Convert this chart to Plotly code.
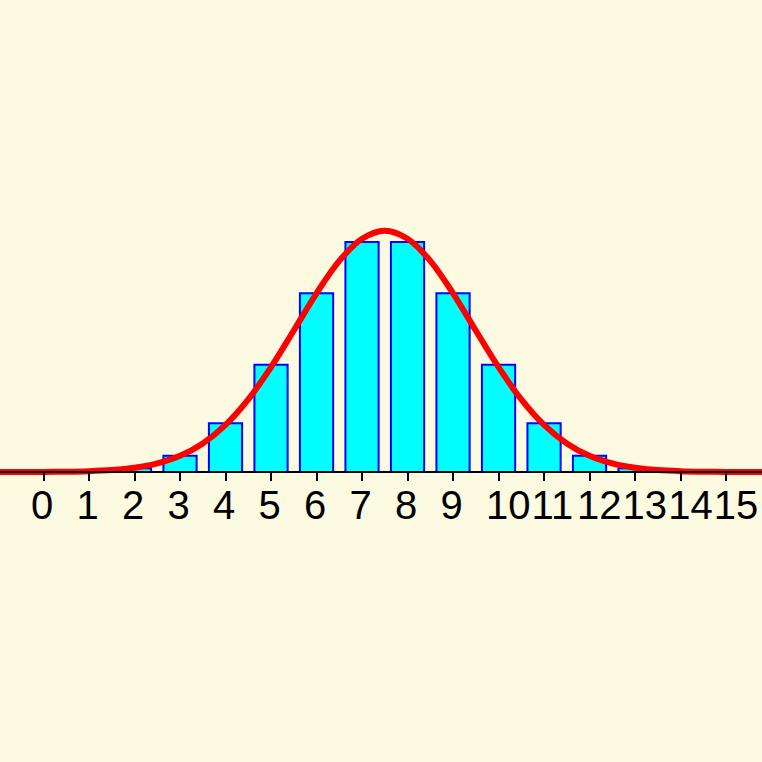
import plotly.graph_objects as go

# Binomial(15, 0.5) probabilities
k_values = list(range(16))
probabilities = [0.00003, 0.00046, 0.0032, 0.0139, 0.0417, 0.0916, 0.1527, 0.1964,
                 0.1964, 0.1527, 0.0916, 0.0417, 0.0139, 0.0032, 0.00046, 0.00003]

# Normal approximation curve
curve_x = [-1.0, -0.5, 0.0, 0.5, 1.0, 1.5, 2.0, 2.5, 3.0, 3.5, 4.0, 4.5, 5.0, 5.5, 6.0, 6.5,
           7.0, 7.5, 8.0, 8.5, 9.0, 9.5, 10.0, 10.5, 11.0, 11.5, 12.0, 12.5, 13.0, 13.5,
           14.0, 14.5, 15.0, 15.5, 16.0]
curve_y = [0.00001, 0.00004, 0.00011, 0.00030, 0.00074, 0.00170, 0.00365, 0.00735,
           0.0138, 0.0244, 0.0402, 0.0620, 0.0895, 0.1208, 0.1526, 0.1803,
           0.1992, 0.2060, 0.1992, 0.1803, 0.1526, 0.1208, 0.0895, 0.0620,
           0.0402, 0.0244, 0.0138, 0.00735, 0.00365, 0.00170, 0.00074, 0.00030,
           0.00011, 0.00004, 0.00001]

tick_labels = [str(k) for k in k_values]
label_shift = -0.295  # labels start slightly left of each tick (left-aligned)

BG = "#FCFAE0"

fig = go.Figure()
fig.add_trace(go.Bar(
    x=k_values, y=probabilities, width=0.73,
    marker=dict(color="#00FFFF", line=dict(color="#0000FF", width=2)),
    hoverinfo="skip",
))
fig.add_trace(go.Scatter(
    x=curve_x, y=curve_y, mode="lines", line_shape="spline",
    line=dict(color="#FF0000", width=6), hoverinfo="skip",
))

x_range = [-0.956, 15.79]
y_bottom, y_top = -0.2476, 0.403
axis_pos = (0 - y_bottom) / (y_top - y_bottom)

fig.update_layout(
    width=762, height=762,
    margin=dict(l=0, r=0, t=0, b=0),
    paper_bgcolor=BG, plot_bgcolor=BG,
    showlegend=False,
    font=dict(family="Liberation Sans, Arial, sans-serif", color="black"),
    xaxis=dict(
        range=x_range,
        tickmode="array", tickvals=k_values, showticklabels=False,
        showgrid=False, zeroline=False,
        showline=True, linecolor="black", linewidth=2,
        ticks="outside", ticklen=8, tickwidth=2, tickcolor="black",
        anchor="free", position=axis_pos,
    ),
    xaxis2=dict(
        range=x_range, overlaying="x",
        tickmode="array", tickvals=[k + label_shift for k in k_values], ticktext=tick_labels,
        tickangle=0, ticklabelposition="outside right",
        tickfont=dict(size=40, color="black"),
        ticklabelstandoff=-2,
        showgrid=False, zeroline=False, showline=False,
        ticks="outside", ticklen=8, tickwidth=2, tickcolor="rgba(0,0,0,0)",
        anchor="free", position=axis_pos,
    ),
    yaxis=dict(range=[y_bottom, y_top], visible=False, showgrid=False, zeroline=False),
)

# invisible carrier trace so the label axis is drawn
fig.add_trace(go.Scatter(x=[None], y=[None], xaxis="x2", yaxis="y", hoverinfo="skip"))

fig.write_html(
    "out.html",
    config={"displayModeBar": False},
    post_script="document.body.style.margin='0';document.body.style.overflow='hidden';",
)
